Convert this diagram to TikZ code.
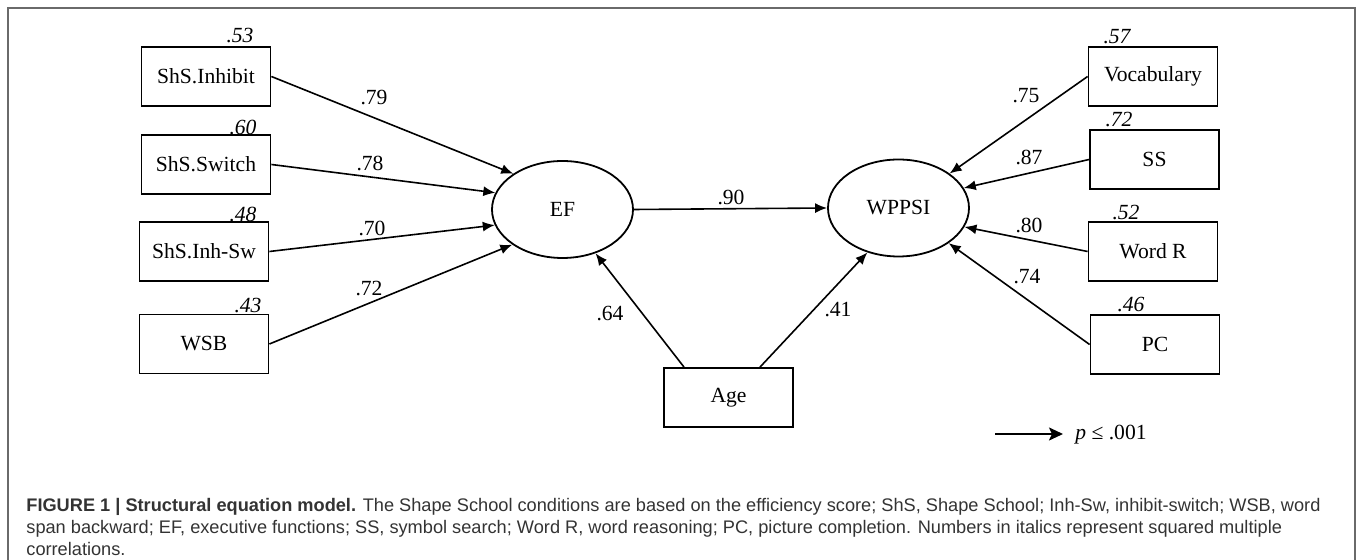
\documentclass[tikz,border=0pt]{standalone}
\usepackage{fontspec}
\setmainfont{Liberation Serif}
\newfontfamily\capfont{Liberation Sans}
\usetikzlibrary{arrows.meta,shapes.geometric}
\definecolor{framegray}{HTML}{6A6A6A}
\definecolor{captext}{HTML}{333333}
\begin{document}
\begin{tikzpicture}[x=0.5pt,y=-0.5pt,
  obs/.style={draw,line width=0.9pt,rectangle,minimum width=64.5pt,minimum height=29.5pt,inner sep=0pt,font=\fontsize{10.8}{12}\selectfont},
  lat/.style={draw,line width=0.9pt,ellipse,minimum width=70.5pt,minimum height=48.5pt,inner sep=0pt,font=\fontsize{10.8}{12}\selectfont},
  arr/.style={line width=0.8pt,-{Latex[length=6pt,width=5pt]}},
  legarr/.style={line width=1pt,-{Stealth[length=7pt,width=6.5pt,inset=1.5pt]}},
  coef/.style={inner sep=0pt,font=\fontsize{10.8}{12}\selectfont},
  rsq/.style={inner sep=0pt,font=\fontsize{10.8}{12}\selectfont\itshape},
  capline/.style={anchor=base west,inner sep=0pt,text=captext,font=\capfont\fontsize{9.1}{11}\selectfont}]
\useasboundingbox (0,0) rectangle (1357,560);
% frame
\draw[framegray,line width=0.6pt] (8,560) -- (8,8) -- (1355,8) -- (1355,560);
% observed and latent variables
\node[obs] (inh) at (206,76.5) {ShS.Inhibit};
\node[obs] (sw)  at (206,164.5) {ShS.Switch};
\node[obs] (ihs) at (204,251.5) {ShS.Inh-Sw};
\node[obs] (wsb) at (204,344) {WSB};
\node[lat] (ef) at (562.5,209.5) {EF};
\node[lat] (wp) at (898.5,208) {WPPSI};
\node[obs] (age) at (728.5,397.5) {Age};
\node[obs] (voc) at (1153,76.5) {Vocabulary};
\node[obs] (ss)  at (1154.5,159.5) {SS};
\node[obs] (wr)  at (1153,251.5) {Word R};
\node[obs] (pc)  at (1155,344.5) {PC};
% squared multiple correlations
\node[rsq] (r1) at (240,36) {.53};
\node[rsq] (r2) at (243,127) {.60};
\node[rsq] (r3) at (243,214) {.48};
\node[rsq] (r4) at (248,306) {.43};
\node[rsq] (r5) at (1117,37) {.57};
\node[rsq] (r6) at (1119,120) {.72};
\node[rsq] (r7) at (1126,213) {.52};
\node[rsq] (r8) at (1131,305) {.46};
% paths
\draw[arr] (inh.east) -- (ef.144);
\draw[arr] (sw.east) -- (ef.166);
\draw[arr] (ihs.east) -- (ef.193);
\draw[arr] (wsb.east) -- (ef.215);
\draw[arr] (ef.east) -- (wp.west);
\draw[arr] ([xshift=-22.25pt]age.north) -- (ef.307);
\draw[arr] ([xshift=15.75pt]age.north) -- (wp.235);
\draw[arr] (voc.west) -- (wp.34);
\draw[arr] (ss.west) -- (wp.17);
\draw[arr] (wr.west) -- (wp.344);
\draw[arr] (pc.west) -- (wp.325);
% coefficients
\node[coef] (c1) at (374,98) {.79};
\node[coef] (c2) at (370,163) {.78};
\node[coef] (c3) at (372,228) {.70};
\node[coef] (c4) at (369,289) {.72};
\node[coef] (c5) at (731,197) {.90};
\node[coef] (c6) at (610,314) {.64};
\node[coef] (c7) at (838,310) {.41};
\node[coef] (c8) at (1026,96) {.75};
\node[coef] (c9) at (1029,157) {.87};
\node[coef] (c10) at (1029,225) {.80};
\node[coef] (c11) at (1027,277) {.74};
% legend
\coordinate (la) at (995,434);
\coordinate (lb) at (1063,434);
\draw[legarr] (la) -- (lb);
\node[coef,anchor=west] (lt) at (1075,435) {{\itshape p} ≤ .001};
% caption
\node[capline] (cap1) at (26,512) {\textbf{FIGURE 1 | Structural equation model.} The Shape School conditions are based on the efficiency score; ShS, Shape School; Inh-Sw, inhibit-switch; WSB, word};
\node[capline] (cap2) at (26,534) {span backward; EF, executive functions; SS, symbol search; Word R, word reasoning; PC, picture completion. Numbers in italics represent squared multiple};
\node[capline] (cap3) at (26,556) {correlations.};
\end{tikzpicture}
\end{document}
